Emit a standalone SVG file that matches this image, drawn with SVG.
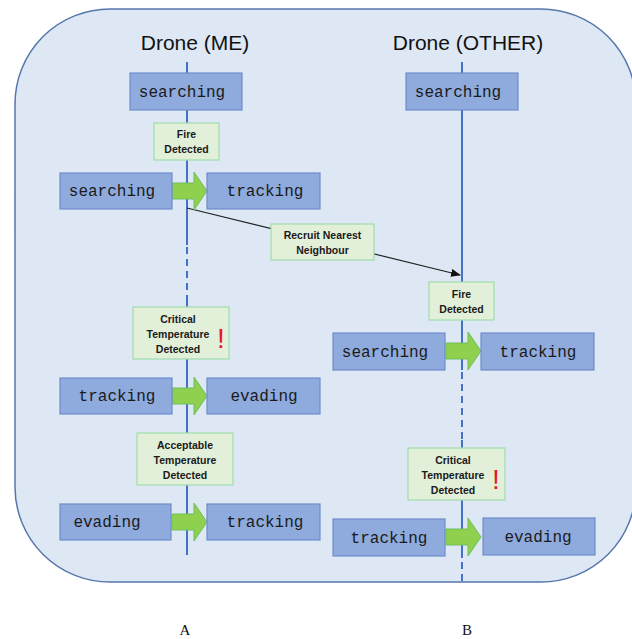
<svg xmlns="http://www.w3.org/2000/svg" width="632" height="639" viewBox="0 0 632 639">
<defs>
<style>
.st{fill:#8faadc;stroke:#6f8ccb;stroke-width:1.2}
.stt{font-family:"Liberation Mono","DejaVu Sans Mono",monospace;font-size:16px;fill:#1a1a1a;text-anchor:middle}
.ev{fill:#e2efd9;stroke:#9fdcaa;stroke-width:1.2}
.evt{font-family:"Liberation Sans","Noto Sans",sans-serif;font-weight:bold;font-size:10.5px;fill:#1a1a1a;text-anchor:middle}
.ttl{font-family:"Liberation Sans","Open Sans",sans-serif;font-size:21px;fill:#111;text-anchor:middle}
.ll{stroke:#4472c4;stroke-width:2;fill:none}
.dash{stroke-dasharray:7 5}
.garr{fill:#8fd14f;stroke:#6cc05a;stroke-width:1}
.excl{font-family:"Liberation Sans",sans-serif;font-size:28px;fill:#e8171f;text-anchor:middle}
.lbl{font-family:"Liberation Serif","DejaVu Serif",serif;font-size:15px;fill:#111;text-anchor:middle}
</style>
<marker id="ah" markerWidth="10" markerHeight="8" refX="9" refY="4" orient="auto" markerUnits="userSpaceOnUse">
<path d="M0,0 L10,4 L0,8 z" fill="#111"/>
</marker>
<path id="ga" d="M0,11 L22,11 L22,0 L35,19 L22,38 L22,27 L0,27 z"/>
</defs>
<rect width="632" height="639" fill="#ffffff"/>
<rect id="frame" x="15" y="9" width="621" height="573" rx="95" ry="95" fill="#dde8f4" stroke="#5677ab" stroke-width="1.5"/>

<g id="connectors">
<line class="ll" x1="187" y1="62" x2="187" y2="245"/>
<line class="ll dash" x1="187" y1="247" x2="187" y2="300"/>
<line class="ll" x1="187" y1="300" x2="187" y2="555"/>
<line class="ll" x1="462" y1="62" x2="462" y2="370"/>
<line class="ll dash" x1="462" y1="372" x2="462" y2="440"/>
<line class="ll" x1="462" y1="440" x2="462" y2="558"/>
<line class="ll dash" x1="462" y1="562" x2="462" y2="582"/>
<line x1="187" y1="208" x2="460" y2="275" stroke="#222" stroke-width="1.2" marker-end="url(#ah)"/>
<use href="#ga" class="garr" x="172" y="172"/>
<use href="#ga" class="garr" x="172" y="377"/>
<use href="#ga" class="garr" x="172" y="503"/>
<use href="#ga" class="garr" x="446" y="332"/>
<use href="#ga" class="garr" x="446" y="518"/>
</g>

<g id="title-me"><text class="ttl" x="195" y="50">Drone (ME)</text></g>
<g id="title-other"><text class="ttl" x="468" y="50">Drone (OTHER)</text></g>

<g id="me-searching-0"><rect class="st" x="130" y="73" width="112" height="37"/><text class="stt" x="182" y="97">searching</text></g>
<g id="other-searching-0"><rect class="st" x="406" y="73" width="112" height="37"/><text class="stt" x="458" y="97">searching</text></g>

<g id="me-fire"><rect class="ev" x="154" y="123" width="65" height="37"/><text class="evt" x="186.5" y="138">Fire</text><text class="evt" x="186.5" y="153">Detected</text></g>

<g id="me-searching-1"><rect class="st" x="60" y="173" width="112" height="36"/><text class="stt" x="112" y="196">searching</text></g>
<g id="me-tracking-1"><rect class="st" x="207" y="173" width="113" height="36"/><text class="stt" x="265" y="196">tracking</text></g>

<g id="recruit"><rect class="ev" x="271" y="224" width="103" height="36"/><text class="evt" x="322.5" y="239">Recruit Nearest</text><text class="evt" x="322.5" y="254">Neighbour</text></g>

<g id="other-fire"><rect class="ev" x="429" y="282" width="65" height="38"/><text class="evt" x="461.5" y="298">Fire</text><text class="evt" x="461.5" y="313">Detected</text></g>

<g id="other-searching-1"><rect class="st" x="333" y="333" width="112" height="37"/><text class="stt" x="385" y="357">searching</text></g>
<g id="other-tracking-1"><rect class="st" x="481" y="333" width="113" height="37"/><text class="stt" x="538" y="357">tracking</text></g>

<g id="me-critical"><rect class="ev" x="133" y="307" width="96" height="52"/><text class="evt" x="178" y="323">Critical</text><text class="evt" x="178" y="338">Temperature</text><text class="evt" x="178" y="353">Detected</text><text class="excl" x="221" y="348">!</text></g>

<g id="me-tracking-2"><rect class="st" x="60" y="378" width="112" height="36"/><text class="stt" x="117" y="401">tracking</text></g>
<g id="me-evading-2"><rect class="st" x="207" y="378" width="113" height="36"/><text class="stt" x="264" y="401">evading</text></g>

<g id="me-acceptable"><rect class="ev" x="137" y="433" width="96" height="52"/><text class="evt" x="185" y="449">Acceptable</text><text class="evt" x="185" y="464">Temperature</text><text class="evt" x="185" y="479">Detected</text></g>

<g id="me-evading-3"><rect class="st" x="60" y="504" width="111" height="36"/><text class="stt" x="107" y="527">evading</text></g>
<g id="me-tracking-3"><rect class="st" x="207" y="504" width="113" height="36"/><text class="stt" x="265" y="527">tracking</text></g>

<g id="other-critical"><rect class="ev" x="408" y="448" width="97" height="52"/><text class="evt" x="453" y="464">Critical</text><text class="evt" x="453" y="479">Temperature</text><text class="evt" x="453" y="494">Detected</text><text class="excl" x="496" y="489">!</text></g>

<g id="other-tracking-2"><rect class="st" x="333" y="519" width="112" height="37"/><text class="stt" x="389" y="543">tracking</text></g>
<g id="other-evading-2"><rect class="st" x="483" y="518" width="112" height="37"/><text class="stt" x="538" y="542">evading</text></g>

<g id="label-a"><text class="lbl" x="185" y="635">A</text></g>
<g id="label-b"><text class="lbl" x="467" y="635">B</text></g>
</svg>
